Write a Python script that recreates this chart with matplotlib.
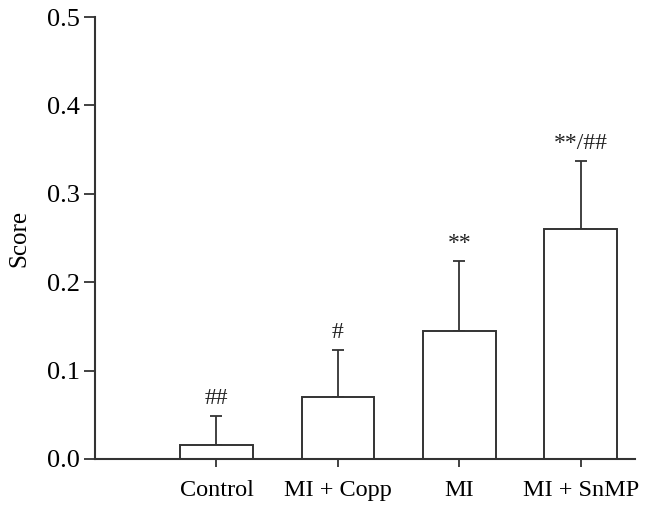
import matplotlib.pyplot as plt
import numpy as np

groups = ["Control", "MI + Copp", "MI", "MI + SnMP"]
means = [0.0158, 0.0705, 0.145, 0.260]
upper = [0.049, 0.123, 0.224, 0.337]
marks = ["##", "#", "**", "**/##"]

plt.rcParams['font.family'] = ['Liberation Serif', 'DejaVu Serif']

fig = plt.figure(figsize=(6.6, 5.08), dpi=100)
ax = fig.add_axes([0.144, 0.0965, 0.818, 0.87])

x = np.arange(1, len(groups) + 1)
err = np.array(upper) - np.array(means)
edge = '#333333'

ax.bar(x, means, width=0.6, color='white', edgecolor=edge, linewidth=1.4, zorder=2)
ax.errorbar(x, means, yerr=[np.zeros(len(x)), err], fmt='none', ecolor=edge,
            elinewidth=1.3, capsize=4.6, capthick=1.3, zorder=1)

for xi, top, m in zip(x, upper, marks):
    ax.annotate(m, (xi, top), xytext=(0, 5), textcoords='offset points',
                ha='center', va='bottom', fontsize=17, color='#222222')

ax.set_xlim(0, 4.445)
ax.set_ylim(0, 0.5)
ax.set_yticks([0.0, 0.1, 0.2, 0.3, 0.4, 0.5])
ax.set_yticklabels(["0.0", "0.1", "0.2", "0.3", "0.4", "0.5"])
ax.set_xticks(x)
ax.set_xticklabels(groups)
ax.set_ylabel("Score", fontsize=18, labelpad=12)

for s in ['top', 'right']:
    ax.spines[s].set_visible(False)
for s in ['left', 'bottom']:
    ax.spines[s].set_linewidth(1.5)
    ax.spines[s].set_color(edge)
ax.tick_params(axis='y', length=8, width=1.3, color=edge, labelsize=19, pad=3)
ax.tick_params(axis='x', length=6, width=1.3, color=edge, labelsize=17.5, pad=9)

fig.savefig("out.png", dpi=100)
